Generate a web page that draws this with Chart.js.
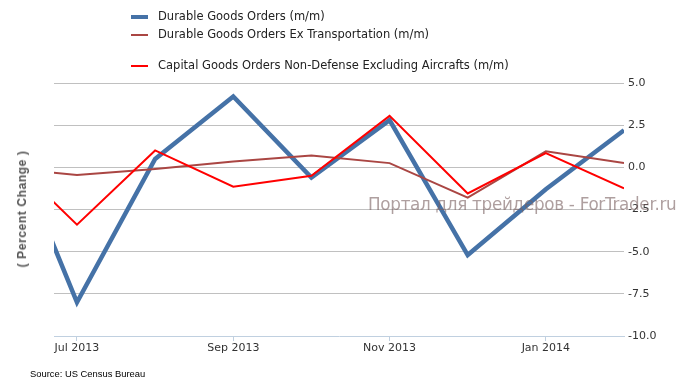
<!DOCTYPE html>
<html>
<head>
<meta charset="utf-8">
<script src="https://cdn.jsdelivr.net/npm/chart.js@4/dist/chart.umd.min.js"></script>
<style>
  html, body { margin: 0; padding: 0; background: #fff; }
  #wrap { position: relative; width: 684px; height: 388px; font-family: "DejaVu Sans", sans-serif; }
  #wrap canvas { position: absolute; left: 0; top: 0; }
  .legend-row { position: absolute; left: 131px; height: 14px; font-size: 11.5px; color: #222; white-space: nowrap; }
  .legend-row .sym { position: absolute; left: 0; width: 17px; }
  .legend-row .txt { position: absolute; left: 27px; top: -1px; }
  #yTitle { position: absolute; left: 22px; top: 209px; transform: translate(-50%, -50%) rotate(-90deg);
    font: bold 12px "Liberation Sans", sans-serif; color: #555; letter-spacing: 0.6px; white-space: nowrap; }
  #watermark { position: absolute; left: 368px; top: 194px; font: 16.8px "DejaVu Sans", sans-serif;
    color: rgba(120, 95, 95, 0.6); white-space: nowrap; letter-spacing: -0.3px; }
  #source { position: absolute; left: 30px; top: 368px; font: 9.4px "Liberation Sans Narrow", "Liberation Sans", sans-serif; color: #000; }
</style>
</head>
<body>
<div id="wrap">
  <canvas id="chart" width="684" height="388"></canvas>
  <div class="legend-row" style="top:10px"><div class="sym" style="top:5px;height:4px;background:#4572A7"></div><div class="txt">Durable Goods Orders (m/m)</div></div>
  <div class="legend-row" style="top:28px"><div class="sym" style="top:6px;height:2px;background:#AA4643"></div><div class="txt">Durable Goods Orders Ex Transportation (m/m)</div></div>
  <div class="legend-row" style="top:59px"><div class="sym" style="top:6px;height:2px;background:#FF0000"></div><div class="txt">Capital Goods Orders Non-Defense Excluding Aircrafts (m/m)</div></div>
  <div id="yTitle">( Percent Change )</div>
  <div id="watermark">Портал для трейдеров - ForTrader.ru</div>
  <div id="source">Source: US Census Bureau</div>
</div>
<script>
// monthly figures, % change m/m (Jun 2013 .. Feb 2014)
const months = ['Jun 2013', 'Jul 2013', 'Aug 2013', 'Sep 2013', 'Oct 2013', 'Nov 2013', 'Dec 2013', 'Jan 2014', 'Feb 2014'];
const durableGoods = [3.3, -8.0, 0.5, 4.2, -0.6, 2.8, -5.2, -1.3, 2.2];
const durableExTransport = [0.0, -0.45, -0.1, 0.35, 0.7, 0.25, -1.8, 0.95, 0.25];
const capitalGoodsExAircraft = [1.1, -3.4, 1.0, -1.15, -0.5, 3.05, -1.55, 0.85, -1.25];
const xTickIndexes = [1, 3, 5, 7];
const yTicks = [5, 2.5, 0, -2.5, -5, -7.5, -10];

const toPoints = vals => vals.map((v, i) => ({ x: i, y: v }));

new Chart(document.getElementById('chart'), {
  type: 'line',
  data: {
    datasets: [
      { label: 'Durable Goods Orders (m/m)', data: toPoints(durableGoods),
        borderColor: '#4572A7', borderWidth: 4.5, order: 3 },
      { label: 'Durable Goods Orders Ex Transportation (m/m)', data: toPoints(durableExTransport),
        borderColor: '#AA4643', borderWidth: 2, order: 2 },
      { label: 'Capital Goods Orders Non-Defense Excluding Aircrafts (m/m)', data: toPoints(capitalGoodsExAircraft),
        borderColor: '#FF0000', borderWidth: 2, order: 1 }
    ]
  },
  options: {
    responsive: false,
    animation: false,
    layout: { padding: { left: 54, right: 0, top: 83, bottom: 22 } },
    elements: { point: { radius: 0 }, line: { tension: 0, borderJoinStyle: 'miter' } },
    datasets: { line: { clip: 0 } },
    plugins: { legend: { display: false }, tooltip: { enabled: false } },
    scales: {
      x: {
        type: 'linear',
        min: 0.706,
        max: 8,
        afterBuildTicks: scale => { scale.ticks = xTickIndexes.map(v => ({ value: v })); },
        afterFit: scale => { scale.height = 30; },
        ticks: {
          callback: v => months[v],
          autoSkip: false, maxRotation: 0, padding: 1,
          color: '#333', font: { family: 'DejaVu Sans', size: 11 }
        },
        grid: { drawOnChartArea: false, drawTicks: true, tickLength: 5, color: '#C0D0E0' },
        border: { color: '#C0D0E0', width: 1 }
      },
      y: {
        position: 'right',
        min: -10,
        max: 5,
        afterBuildTicks: scale => { scale.ticks = yTicks.map(v => ({ value: v })); },
        afterFit: scale => { scale.width = 60; },
        ticks: {
          callback: v => v.toFixed(1),
          padding: 4,
          color: '#333', font: { family: 'DejaVu Sans', size: 11 }
        },
        grid: { color: ctx => ctx.tick && ctx.tick.value === -10 ? 'rgba(0,0,0,0)' : '#C0C0C0', drawTicks: false },
        border: { display: false }
      }
    }
  }
});
</script>
</body>
</html>
